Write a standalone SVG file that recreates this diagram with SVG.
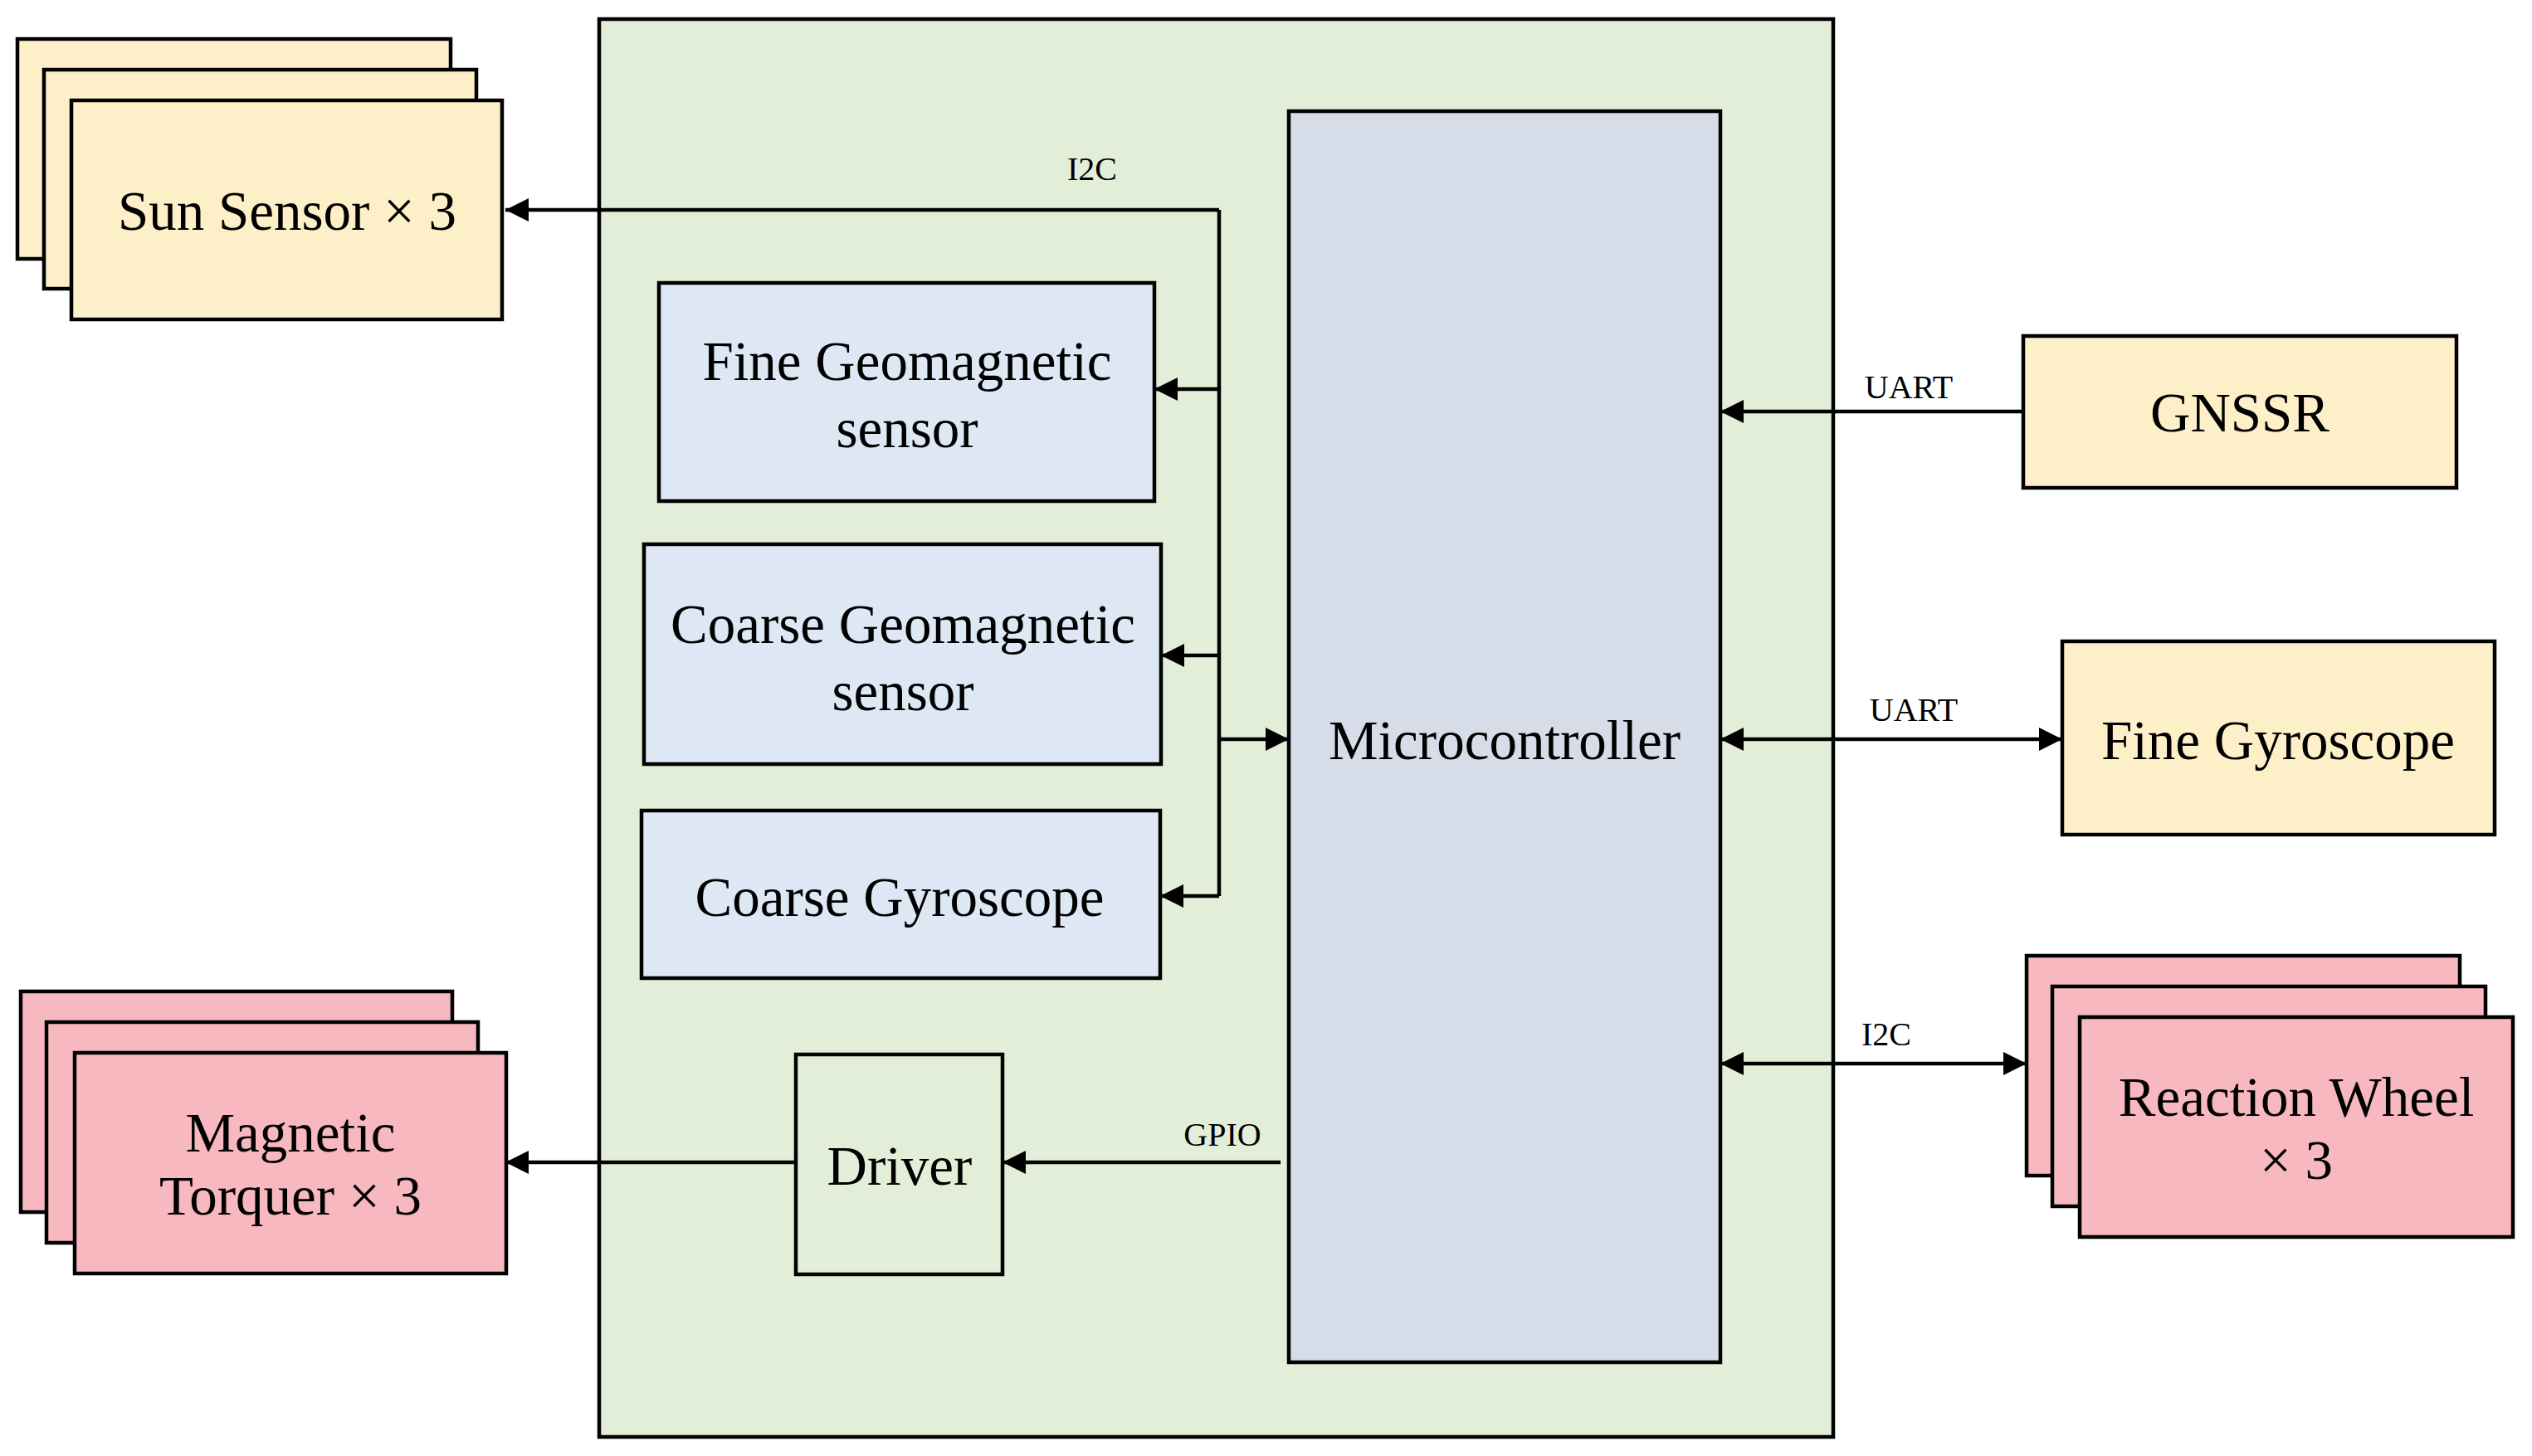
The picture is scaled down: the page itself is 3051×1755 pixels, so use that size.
<svg xmlns="http://www.w3.org/2000/svg" width="3051" height="1755" viewBox="0 0 3051 1755">
<style>
.b{stroke:#000;stroke-width:4.5}
.y{fill:#fdf0c8}.p{fill:#f8b8c0}.bl{fill:#dde8f4}
.t{font-family:"Liberation Serif",serif;font-size:67px;text-anchor:middle;fill:#000}
.l{font-family:"Liberation Serif",serif;font-size:40px;text-anchor:middle;fill:#000}
.c{stroke:#000;stroke-width:4.5;fill:none}
</style>
<defs>
<marker id="a" viewBox="0 0 10 10" refX="10" refY="5" markerWidth="30" markerHeight="28" markerUnits="userSpaceOnUse" orient="auto-start-reverse"><path d="M0,0L10,5L0,10z" fill="#000"/></marker>
</defs>
<rect width="3051" height="1755" fill="#fff"/>
<g id="board"><rect class="b" x="722" y="23" width="1487" height="1709" fill="#e3eed8"/></g>
<g id="sun"><rect class="b y" x="21" y="47" width="522" height="265"/><rect class="b y" x="53" y="84" width="521" height="264"/><rect class="b y" x="86" y="121" width="519" height="264"/><text class="t" x="346" y="277">Sun Sensor × 3</text></g>
<g id="finegeo"><rect class="b bl" x="794" y="341" width="597" height="263"/><text class="t" x="1093" y="458">Fine Geomagnetic</text><text class="t" x="1093" y="539">sensor</text></g>
<g id="coarsegeo"><rect class="b bl" x="776" y="656" width="623" height="265"/><text class="t" x="1088" y="775">Coarse Geomagnetic</text><text class="t" x="1088" y="856">sensor</text></g>
<g id="coarsegyro"><rect class="b bl" x="773" y="977" width="625" height="202"/><text class="t" x="1084" y="1104">Coarse Gyroscope</text></g>
<g id="driver"><rect class="b" x="959" y="1271" width="249" height="265" fill="#e3eed8"/><text class="t" x="1084" y="1428">Driver</text></g>
<g id="mcu"><rect class="b" x="1553" y="134" width="520" height="1508" fill="#d6dde8"/><text class="t" x="1813" y="915">Microcontroller</text></g>
<g id="gnssr"><rect class="b y" x="2438" y="405" width="522" height="183"/><text class="t" x="2699" y="520">GNSSR</text></g>
<g id="finegyro"><rect class="b y" x="2485" y="773" width="521" height="233"/><text class="t" x="2745" y="915">Fine Gyroscope</text></g>
<g id="wheel"><rect class="b p" x="2442" y="1152" width="522" height="265"/><rect class="b p" x="2473" y="1189" width="522" height="265"/><rect class="b p" x="2506" y="1226" width="522" height="265"/><text class="t" x="2767" y="1345">Reaction Wheel</text><text class="t" x="2767" y="1421">× 3</text></g>
<g id="torquer"><rect class="b p" x="25" y="1195" width="520" height="266"/><rect class="b p" x="56" y="1232" width="520" height="266"/><rect class="b p" x="90" y="1269" width="520" height="266"/><text class="t" x="350" y="1388">Magnetic</text><text class="t" x="350" y="1464">Torquer × 3</text></g>
<g id="connectors">
<path class="c" d="M1469,253H609" marker-end="url(#a)"/>
<path class="c" d="M1469,253V1080"/>
<path class="c" d="M1469,469H1391" marker-end="url(#a)"/>
<path class="c" d="M1469,790H1399" marker-end="url(#a)"/>
<path class="c" d="M1469,1080H1398" marker-end="url(#a)"/>
<path class="c" d="M1469,891H1553" marker-end="url(#a)"/>
<path class="c" d="M2438,496H2073" marker-end="url(#a)"/>
<path class="c" d="M2073,891H2485" marker-start="url(#a)" marker-end="url(#a)"/>
<path class="c" d="M2073,1282H2442" marker-start="url(#a)" marker-end="url(#a)"/>
<path class="c" d="M1543,1401H1208" marker-end="url(#a)"/>
<path class="c" d="M959,1401H609" marker-end="url(#a)"/>
<text class="l" x="1316" y="217">I2C</text>
<text class="l" x="2300" y="480">UART</text>
<text class="l" x="2306" y="869">UART</text>
<text class="l" x="2273" y="1260">I2C</text>
<text class="l" x="1473" y="1381">GPIO</text>
</g>
</svg>
